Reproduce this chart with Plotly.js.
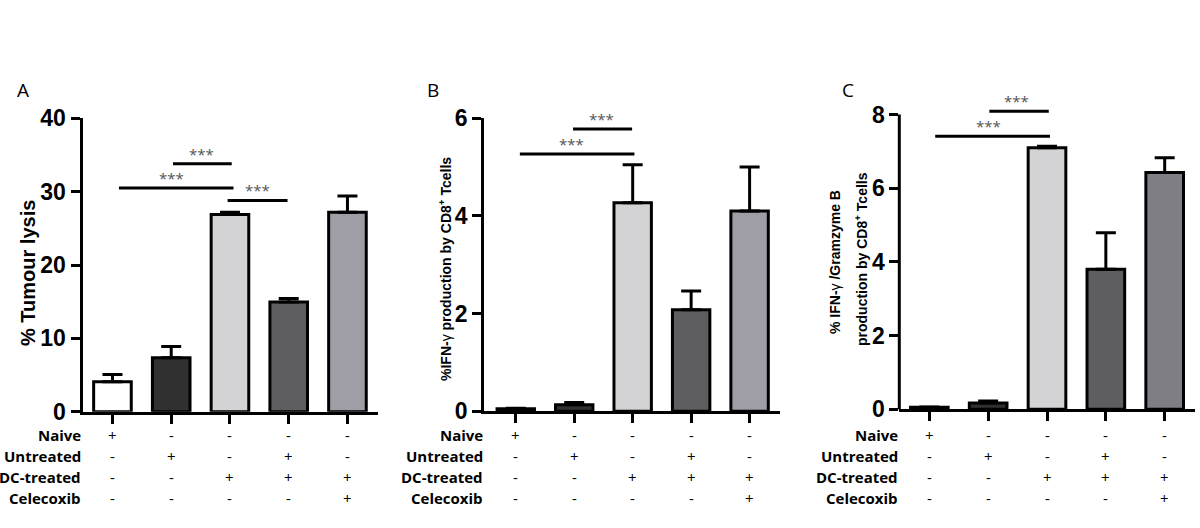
<!DOCTYPE html>
<html><head><meta charset="utf-8">
<script src="https://cdn.plot.ly/plotly-3.0.1.min.js"></script>
<style>html,body{margin:0;padding:0;background:#fff}#chart{width:1200px;height:528px}</style>
</head><body><div id="chart"></div>
<script>
// ---- data ----
const groups = ['G1','G2','G3','G4','G5'];
const barColorsAB = ['#ffffff','#303030','#d3d3d5','#5e5e61','#9f9ea7'];
const barColorsC  = ['#ffffff','#303030','#d3d3d5','#5e5e61','#7f7e84'];

const lysisMean = [4.1, 7.35, 26.9, 14.95, 27.2];
const lysisSem  = [1.0, 1.55, 0.3, 0.5, 2.2];

const ifnMean = [0.05, 0.13, 4.27, 2.08, 4.10];
const ifnSem  = [0.01, 0.05, 0.78, 0.38, 0.90];

const ifnGzbMean = [0.05, 0.17, 7.10, 3.80, 6.43];
const ifnGzbSem  = [0.01, 0.05, 0.04, 0.99, 0.40];

// significance brackets (category positions / values)
const sigA_x0 = [1.03, 0.11, 1.96], sigA_x1 = [2.03, 2.06, 2.98], sigA_y = [33.8, 30.5, 28.8], sigA_sx = [1.51, 1.0, 2.47];
const sigB_x0 = [0.98, 0.07],       sigB_x1 = [1.99, 2.03],       sigB_y = [5.78, 5.27],       sigB_sx = [1.46, 0.95];
const sigC_x0 = [1.02, 0.10],       sigC_x1 = [2.03, 2.05],       sigC_y = [8.09, 7.41],       sigC_sx = [1.49, 1.0];
const sigLabel = '***';

// treatment table
const rowLabels = ['Naive','Untreated','DC-treated','Celecoxib'];
const rowNaive     = ['+','-','-','-','-'];
const rowUntreated = ['-','+','-','+','-'];
const rowDC        = ['-','-','+','+','+'];
const rowCelecoxib = ['-','-','-','-','+'];
const tableRows = [rowNaive, rowUntreated, rowDC, rowCelecoxib];

const panelLabels = ['A','B','C'];
const yTitleA = '% Tumour lysis';
const yTitleB = '%IFN-<span style="font-weight:normal">γ</span> production by CD8<sup>+</sup> Tcells';
const yTitleC1 = '% IFN-<span style="font-weight:normal">γ</span> /Gramzyme B';
const yTitleC2 = 'production by CD8<sup>+</sup> Tcells';

// ---- layout helpers ----
const W = 1200, H = 528;
const px = v => v / W, py = v => 1 - v / H;

function barTrace(xa, ya, mean, sem, colors) {
  return {
    type: 'bar', x: groups, y: mean, xaxis: xa, yaxis: ya, width: 0.64,
    marker: {color: colors, line: {color: '#000', width: 3}},
    error_y: {type: 'data', symmetric: false, array: sem, arrayminus: sem.map(() => 0),
              thickness: 3, width: 10, color: '#000'},
    showlegend: false, hoverinfo: 'skip'
  };
}
const data = [
  barTrace('x', 'y', lysisMean, lysisSem, barColorsAB),
  barTrace('x2', 'y2', ifnMean, ifnSem, barColorsAB),
  barTrace('x3', 'y3', ifnGzbMean, ifnGzbSem, barColorsC)
];

const tickFont = {family: 'Liberation Sans, Arial, sans-serif', size: 23, color: '#000', weight: 'bold'};
function xAx(dom, rng, anchor) {
  return {domain: dom, range: rng, anchor: anchor, type: 'category', showline: true, linewidth: 3, linecolor: '#000',
          ticks: 'outside', ticklen: 9, tickwidth: 3, tickcolor: '#000', showticklabels: false,
          showgrid: false, zeroline: false, fixedrange: true};
}
function yAx(dom, rng, dtick, showline, anchor) {
  return {domain: dom, range: rng, anchor: anchor, dtick: dtick, tick0: 0, showline: showline, linewidth: 3, linecolor: '#000',
          ticks: 'outside', ticklen: 9, tickwidth: 3, tickcolor: '#000', tickfont: tickFont,
          showgrid: false, zeroline: false, fixedrange: true};
}

const shapes = [];
const annotations = [];
function addSig(xa, ya, x0s, x1s, ys, sxs) {
  for (let i = 0; i < ys.length; i++) {
    shapes.push({type: 'line', xref: xa, yref: ya, x0: x0s[i], x1: x1s[i], y0: ys[i], y1: ys[i],
                 line: {color: '#000', width: 3}});
    annotations.push({xref: xa, yref: ya, x: sxs[i], y: ys[i], text: sigLabel, showarrow: false,
                      yanchor: 'bottom', xanchor: 'center', yshift: -2,
                      font: {family: 'Open Sans, sans-serif', size: 15, color: '#555'}});
  }
}
addSig('x', 'y', sigA_x0, sigA_x1, sigA_y, sigA_sx);
addSig('x2', 'y2', sigB_x0, sigB_x1, sigB_y, sigB_sx);
addSig('x3', 'y3', sigC_x0, sigC_x1, sigC_y, sigC_sx);

// C y-axis line drawn only up to its top tick
shapes.push({type: 'line', xref: 'x3 domain', yref: 'y3', x0: 0, x1: 0, y0: -0.04, y1: 8,
             line: {color: '#000', width: 3}});

// treatment table
const rowY = [435, 455.5, 476.5, 497.5];
const labelRight = [83, 485, 900];
const xaxes = ['x', 'x2', 'x3'];
for (let p = 0; p < 3; p++) {
  for (let r = 0; r < rowLabels.length; r++) {
    annotations.push({xref: 'paper', yref: 'paper', x: px(labelRight[p]), y: py(rowY[r]),
      xanchor: 'right', yanchor: 'middle', showarrow: false, text: rowLabels[r],
      font: {family: 'Open Sans, sans-serif', size: 15, color: '#000', weight: 'bold'}});
    for (let g = 0; g < groups.length; g++) {
      annotations.push({xref: xaxes[p], yref: 'paper', x: groups[g], y: py(rowY[r]),
        xanchor: 'center', yanchor: 'middle', showarrow: false, text: tableRows[r][g],
        font: {family: 'Open Sans, sans-serif', size: 15, color: '#000'}});
    }
  }
}

// panel letters
const panelX = [23, 433, 848];
for (let p = 0; p < 3; p++) {
  annotations.push({xref: 'paper', yref: 'paper', x: px(panelX[p]), y: py(90), showarrow: false,
    text: panelLabels[p], xanchor: 'center', yanchor: 'middle',
    font: {family: 'Open Sans, sans-serif', size: 19, color: '#000'}});
}

// y-axis titles
const titleFont = s => ({family: 'Liberation Sans, Arial, sans-serif', size: s, color: '#000', weight: 'bold'});
annotations.push({xref: 'paper', yref: 'paper', x: px(28), y: py(273), text: yTitleA, textangle: -90,
  showarrow: false, xanchor: 'center', yanchor: 'middle', font: titleFont(20)});
annotations.push({xref: 'paper', yref: 'paper', x: px(445), y: py(269), text: yTitleB, textangle: -90,
  showarrow: false, xanchor: 'center', yanchor: 'middle', font: titleFont(14)});
annotations.push({xref: 'paper', yref: 'paper', x: px(835), y: py(262), text: yTitleC1, textangle: -90,
  showarrow: false, xanchor: 'center', yanchor: 'middle', font: titleFont(14)});
annotations.push({xref: 'paper', yref: 'paper', x: px(861), y: py(259), text: yTitleC2, textangle: -90,
  showarrow: false, xanchor: 'center', yanchor: 'middle', font: titleFont(14)});

const layout = {
  width: W, height: H, margin: {l: 0, r: 0, t: 0, b: 0},
  paper_bgcolor: '#fff', plot_bgcolor: 'rgba(0,0,0,0)', showlegend: false,
  xaxis:  xAx([px(82.5), px(378)], [-0.51, 4.52], 'y'),
  yaxis:  yAx([py(411.8), py(118.3)], [0, 40], 10, true, 'x'),
  xaxis2: xAx([px(484.2), px(780)], [-0.54, 4.52], 'y2'),
  yaxis2: yAx([py(411.2), py(118.3)], [0, 6], 2, true, 'x2'),
  xaxis3: xAx([px(899.3), px(1195)], [-0.51, 4.515], 'y3'),
  yaxis3: yAx([py(409.2), py(409.2 - 8.3 * 36.83)], [0, 8.3], 2, false, 'x3'),
  shapes: shapes, annotations: annotations, bargap: 0.3
};
Plotly.newPlot('chart', data, layout, {staticPlot: true, displayModeBar: false});
</script></body></html>
